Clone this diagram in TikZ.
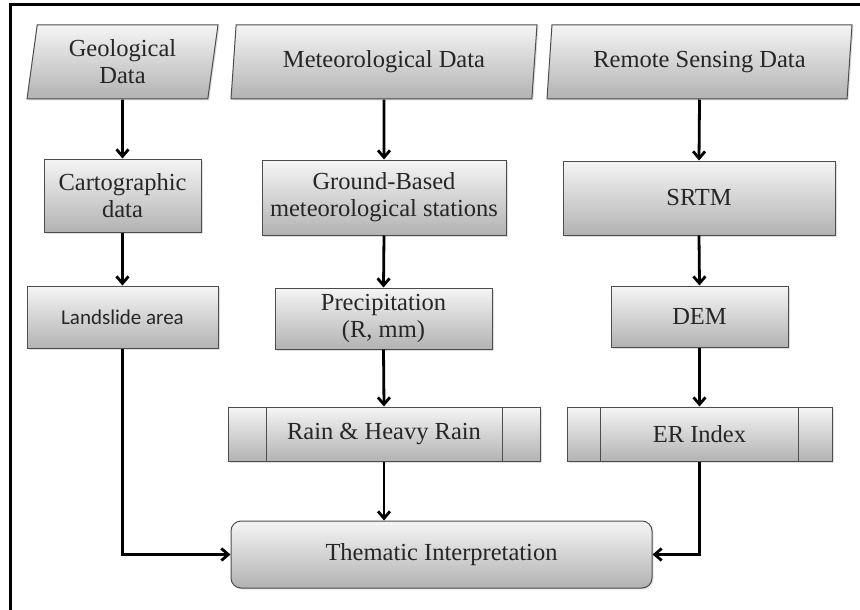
\documentclass[tikz,border=0pt]{standalone}
\usepackage{fontspec}
\setmainfont{Liberation Serif}
\newfontfamily\calibrifont{Carlito}
\usetikzlibrary{shapes.geometric,arrows.meta,shadows}

\tikzset{
  boxfill/.style={draw=black!70, line width=1pt, top color=black!4, bottom color=black!30,
    drop shadow={shadow xshift=1.5pt, shadow yshift=-1.5pt, opacity=0.25},
    text=black!85, font=\fontsize{24.5}{27}\selectfont},
  databox/.style={boxfill, trapezium, trapezium left angle=77, trapezium right angle=103,
    trapezium stretches body, inner sep=0pt, align=center},
  procbox/.style={boxfill, rectangle, inner sep=0pt, align=center},
  resultbox/.style={procbox, rounded corners=10pt},
  barline/.style={draw=black!70, line width=1pt},
  flow/.style={-{Straight Barb[length=7pt,width=12pt]}, line width=2.8pt}
}

\begin{document}
\begin{tikzpicture}[x=1pt, y=-1pt]
    \useasboundingbox (0,0) rectangle (860,610);
    % frame
    \draw [line width=3pt] (860,5) -- (10,5) -- (10,610);
    %
    % data sources
    \node [databox, minimum width=191pt, minimum height=74pt] (geo) at (122.5,62) {Geological\\Data};
    \node [databox, minimum width=306pt, minimum height=74pt] (met) at (384,62) {Meteorological Data};
    \node [databox, minimum width=305pt, minimum height=74pt] (rs) at (699.5,62) {Remote Sensing Data};
    %
    % first step
    \node [procbox, minimum width=157pt, minimum height=73pt] (carto) at (122.5,195.5) {Cartographic\\data};
    \node [procbox, minimum width=244pt, minimum height=75pt] (ground) at (384,197.5) {Ground-Based\\meteorological stations};
    \node [procbox, minimum width=272pt, minimum height=74pt] (srtm) at (699,198) {SRTM};
    %
    % second step
    \node [procbox, minimum width=191pt, minimum height=62pt, font=\calibrifont\fontsize{21}{24}\selectfont] (land) at (122.5,317) {Landslide area};
    \node [procbox, minimum width=217pt, minimum height=61pt] (precip) at (383.5,318.5) {Precipitation\\(R, mm)};
    \node [procbox, minimum width=177pt, minimum height=61pt] (dem) at (699.5,316.5) {DEM};
    %
    % indices
    \node [procbox, minimum width=312pt, minimum height=54pt] (rain) at (384,434) {Rain \& Heavy Rain};
    \draw [barline] ([xshift=39pt]rain.north west) -- ([xshift=39pt]rain.south west);
    \draw [barline] ([xshift=-38pt]rain.north east) -- ([xshift=-38pt]rain.south east);
    \node [procbox, minimum width=265pt, minimum height=54pt] (er) at (699.5,434) {ER Index};
    \draw [barline] ([xshift=34pt]er.north west) -- ([xshift=34pt]er.south west);
    \draw [barline] ([xshift=-34pt]er.north east) -- ([xshift=-34pt]er.south east);
    %
    % result
    \node [resultbox, minimum width=421pt, minimum height=67pt] (them) at (441.5,554.5) {Thematic Interpretation};
    %
    % arrows
    \draw [flow] (geo.south) -- (carto.north);
    \draw [flow] (carto.south) -- (land.north);
    \draw [flow] (met.south) -- (ground.north);
    \draw [flow] (ground.south) -- (precip.north);
    \draw [flow] (precip.south) -- (rain.north);
    \draw [flow] (rs.south) -- (srtm.north);
    \draw [flow] (srtm.south) -- (dem.north);
    \draw [flow] (dem.south) -- (er.north);
    \draw [flow] (rain.south) -- (rain.south |- them.north);
    \draw [flow] (land.south) |- (them.west);
    \draw [flow] (er.south) |- (them.east);
\end{tikzpicture}
\end{document}
